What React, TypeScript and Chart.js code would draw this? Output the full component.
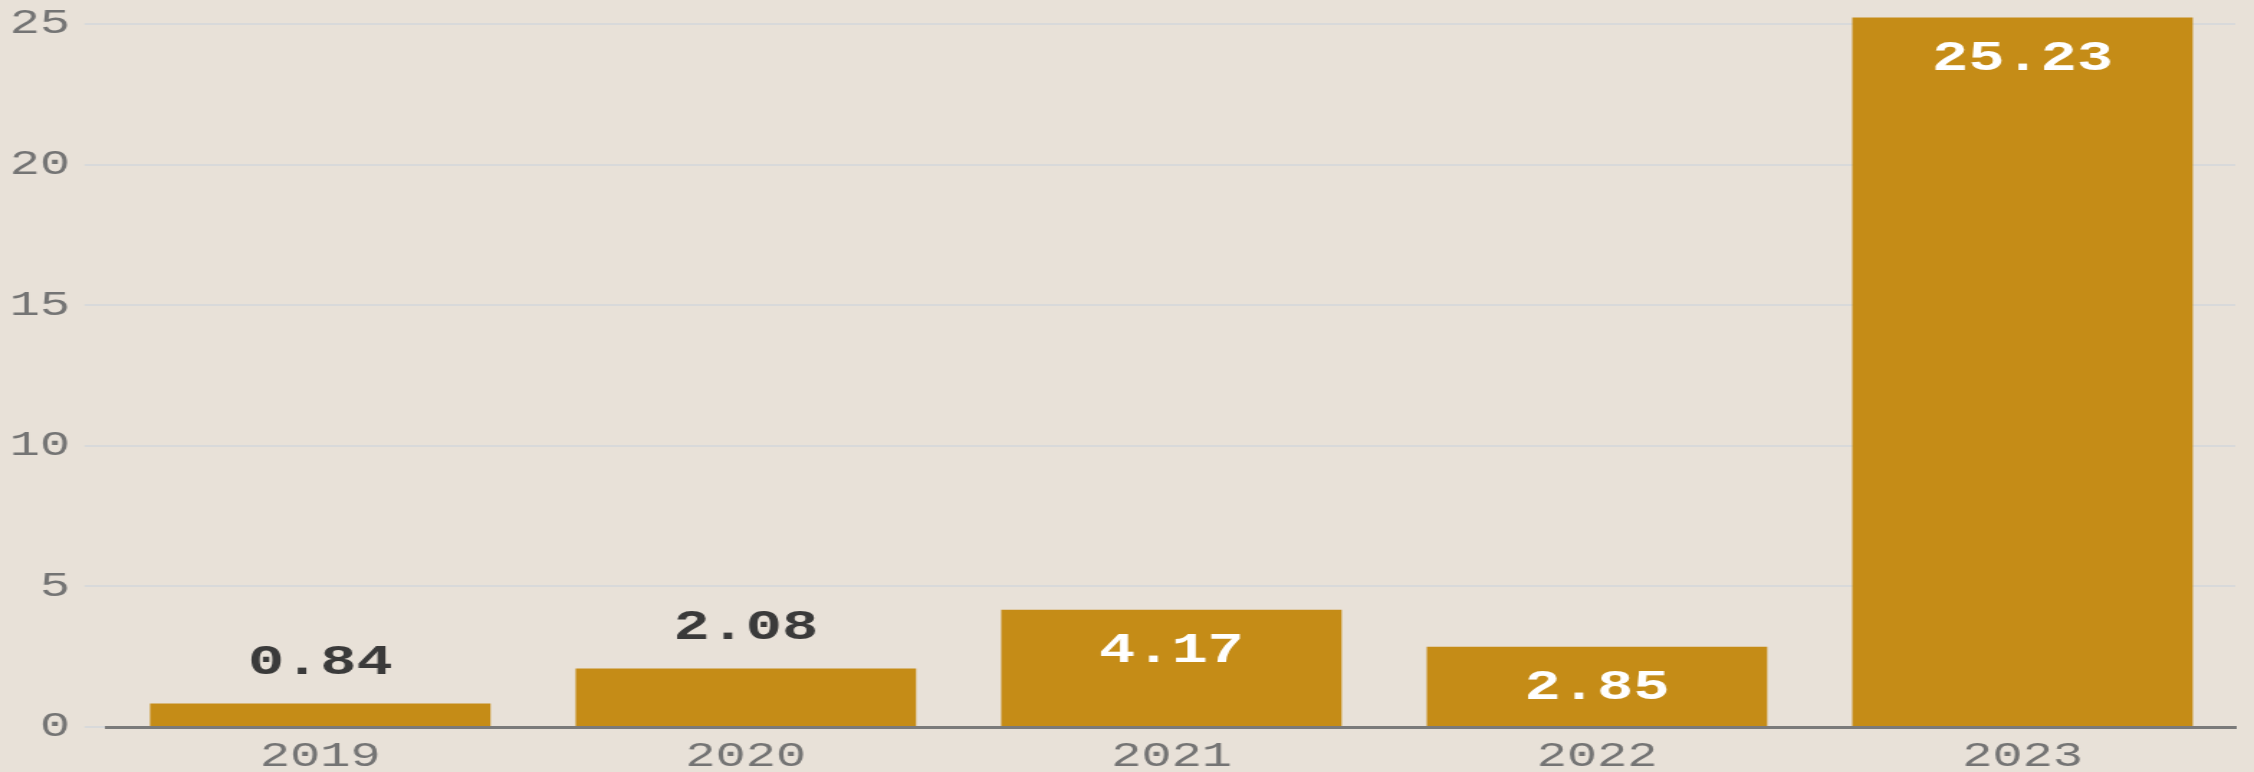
import React, { useEffect, useRef } from "react";
import { Chart, registerables } from "chart.js";

Chart.register(...registerables);

// ---- data ----
const years: string[] = ["2019", "2020", "2021", "2022", "2023"];
const values: number[] = [0.84, 2.08, 4.17, 2.85, 25.23];
const yTickValues: number[] = [0, 5, 10, 15, 20, 25];

// ---- layout / style ----
const FULL_W = 2254;
const H = 772;
const INNER_W = 1568;
const SX = FULL_W / INNER_W;
const FONT = "'Liberation Mono', 'DejaVu Sans Mono', monospace";
const BG = "#e8e1d8";
const BAR = "#c58c17";
const TICK_COLOR = "#747474";

export default function App() {
  const ref = useRef<HTMLCanvasElement>(null);

  useEffect(() => {
    if (!ref.current) return;

    const valueLabels = {
      id: "valueLabels",
      afterDatasetsDraw(chart: any) {
        const ctx = chart.ctx;
        const meta = chart.getDatasetMeta(0);
        const base = chart.scales.y.getPixelForValue(0);
        ctx.save();
        ctx.font = `bold 42px ${FONT}`;
        ctx.textAlign = "center";
        ctx.textBaseline = "middle";
        meta.data.forEach((el: any, i: number) => {
          const inside = base - el.y > 70;
          ctx.fillStyle = inside ? "#ffffff" : "#3a3a3a";
          ctx.fillText(values[i].toFixed(2), el.x, inside ? el.y + 42 : el.y - 40);
        });
        ctx.restore();
      },
    };

    const chart = new Chart(ref.current, {
      type: "bar",
      data: {
        labels: years,
        datasets: [
          {
            data: values,
            backgroundColor: BAR,
            borderWidth: 0,
            categoryPercentage: 0.8,
            barPercentage: 1,
          },
        ],
      },
      options: {
        animation: false,
        responsive: false,
        devicePixelRatio: 1,
        layout: { padding: { top: 10, right: 13, left: 0, bottom: 0 } },
        plugins: {
          legend: { display: false },
          tooltip: { enabled: false },
        },
        scales: {
          x: {
            z: 1,
            grid: { display: false, drawTicks: false, tickLength: 0 },
            border: { display: true, color: "#7a7a7a", width: 3 },
            ticks: {
              color: TICK_COLOR,
              font: { family: FONT, size: 35 },
              padding: 9,
            },
            afterFit: (s: any) => {
              s.height = 45;
              s.paddingLeft = 0;
              s.paddingRight = 0;
            },
          },
          y: {
            min: 0,
            max: 25.5,
            border: { display: false },
            grid: {
              color: "#d8d9da",
              lineWidth: 2,
              drawTicks: true,
              tickLength: 16,
            },
            ticks: {
              stepSize: 5,
              color: TICK_COLOR,
              font: { family: FONT, size: 35 },
              padding: 10,
            },
            afterBuildTicks: (s: any) => {
              s.ticks = yTickValues.map((v) => ({ value: v }));
            },
            afterFit: (s: any) => {
              s.width = 74.8;
              s.paddingTop = 0;
              s.paddingBottom = 0;
            },
          },
        },
      },
      plugins: [valueLabels],
    });

    return () => chart.destroy();
  }, []);

  return (
    <div
      style={{
        position: "fixed",
        left: 0,
        top: 0,
        width: FULL_W,
        height: H,
        overflow: "hidden",
        background: BG,
      }}
    >
      <div
        style={{
          width: INNER_W,
          height: H,
          transform: `scaleX(${SX})`,
          transformOrigin: "0 0",
        }}
      >
        <canvas ref={ref} width={INNER_W} height={H} style={{ display: "block" }} />
      </div>
    </div>
  );
}
